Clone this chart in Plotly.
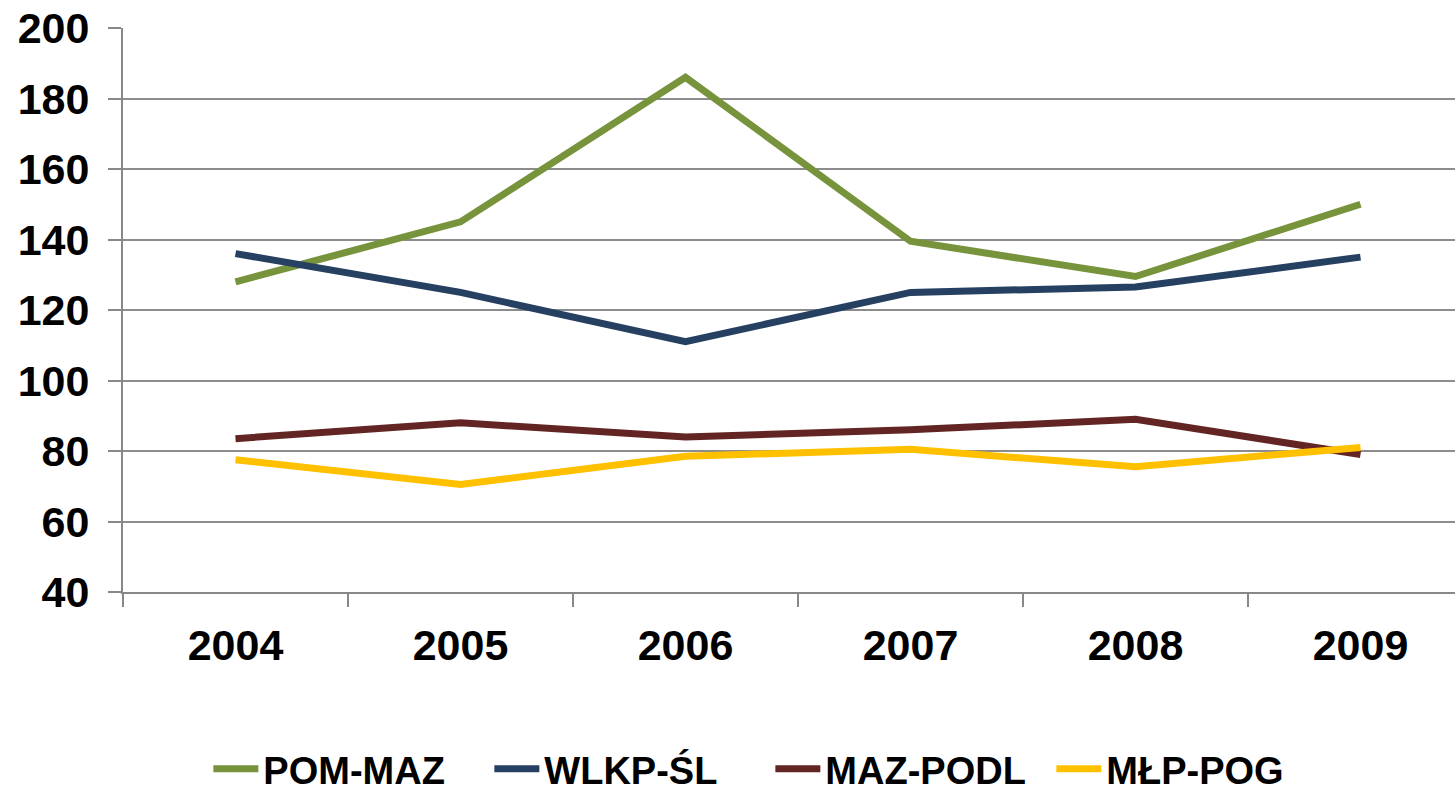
import plotly.graph_objects as go

years = ["2004", "2005", "2006", "2007", "2008", "2009"]
pom_maz = [128, 145, 186, 139.5, 129.5, 150]
wlkp_sl = [136, 125, 111, 125, 126.5, 135]
maz_podl = [83.5, 88, 84, 86, 89, 79]
mlp_pog = [77.5, 70.5, 78.5, 80.5, 75.5, 81]

series_names = ["POM-MAZ", "WLKP-ŚL", "MAZ-PODL", "MŁP-POG"]
series_values = [pom_maz, wlkp_sl, maz_podl, mlp_pog]
colors = ["#77933C", "#254061", "#632523", "#FFC000"]
y_ticks = [40, 60, 80, 100, 120, 140, 160, 180, 200]

font_family = "Liberation Sans, Arial, sans-serif"

fig = go.Figure()
for name, vals, col in zip(series_names, series_values, colors):
    fig.add_trace(go.Scatter(
        x=years, y=vals, name=name, mode="lines",
        line=dict(color=col, width=7),
    ))

fig.update_layout(
    width=1455, height=787,
    margin=dict(l=123, r=0, t=28, b=195, autoexpand=False),
    paper_bgcolor="white", plot_bgcolor="white",
    font=dict(family=font_family, color="black"),
    showlegend=True,
    legend=dict(
        orientation="h",
        xref="paper", yref="paper",
        x=0.486, xanchor="center",
        y=-0.3138, yanchor="middle",
        font=dict(size=38, family=font_family, weight="bold"),
        itemwidth=45,
        entrywidth=221,
        traceorder="normal",
    ),
)

fig.update_xaxes(
    type="category",
    range=[-0.5, 5.42],
    showgrid=False,
    showline=True, linecolor="#888888", linewidth=2,
    ticks="outside", ticklen=13, tickcolor="#888888", tickwidth=2,
    tickson="boundaries",
    tickfont=dict(size=43, family=font_family, weight="bold"),
    ticklabelstandoff=14,
    zeroline=False,
    automargin=False,
)

fig.update_yaxes(
    range=[40, 200],
    tickvals=y_ticks,
    showgrid=True, gridcolor="#8c8c8c", gridwidth=2,
    showline=True, linecolor="#888888", linewidth=2,
    ticks="outside", ticklen=13, tickcolor="#888888", tickwidth=2,
    tickfont=dict(size=43, family=font_family, weight="bold"),
    ticklabelstandoff=10,
    zeroline=False,
    automargin=False,
)

fig.write_html("out.html", config={"displayModeBar": False},
               post_script="document.body.style.margin='0';")
